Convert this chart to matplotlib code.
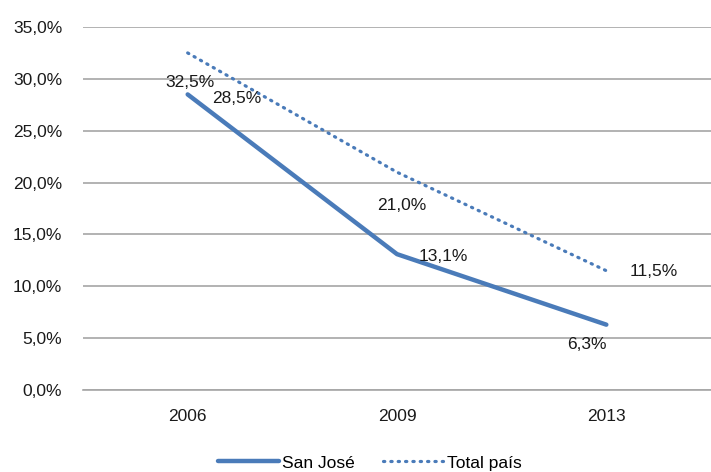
import matplotlib
matplotlib.use("Agg")
import matplotlib.pyplot as plt
from matplotlib.ticker import FuncFormatter

years = ["2006", "2009", "2013"]
san_jose = [28.5, 13.1, 6.3]
total_pais = [32.5, 21.0, 11.5]

# label offsets in pixels (dx, dy) for each data label
sj_offsets = [(49, -4), (46, -2), (-19, -20)]
tp_offsets = [(2, -30), (5, -33), (47, -1)]

blue = "#4a7bb9"

plt.rcParams['font.family'] = ['Liberation Sans', 'DejaVu Sans']

fig = plt.figure(figsize=(7.11, 4.72), dpi=100)
ax = fig.add_axes([83 / 711, 1 - 390 / 472, 1 - 83 / 711, (390 - 27) / 472])

x = list(range(len(years)))
ax.plot(x, san_jose, color=blue, lw=3.2, solid_capstyle='round', label="San José")
ax.plot(x, total_pais, color=blue, lw=2.3, linestyle=(0, (0.4, 1.9)),
        dash_capstyle='round', label="Total país")

def fmt(v):
    return f"{v:.1f}".replace(".", ",") + "%"

for xi, v, (dx, dy) in zip(x, san_jose, sj_offsets):
    ax.annotate(fmt(v), (xi, v), xytext=(dx * 0.72, dy * 0.72), textcoords='offset points',
                ha='center', va='center', fontsize=12.5, color="#1a1a1a")
for xi, v, (dx, dy) in zip(x, total_pais, tp_offsets):
    ax.annotate(fmt(v), (xi, v), xytext=(dx * 0.72, dy * 0.72), textcoords='offset points',
                ha='center', va='center', fontsize=12.5, color="#1a1a1a")

ax.set_xlim(-0.5, 2.5)
ax.set_ylim(0, 35)
ax.set_yticks(range(0, 36, 5))
ax.yaxis.set_major_formatter(FuncFormatter(lambda v, p: fmt(v)))
ax.set_xticks(x)
ax.set_xticklabels(years)
ax.tick_params(axis='both', length=0, labelsize=12.5, colors="#1a1a1a")
ax.tick_params(axis='x', pad=14)
ax.tick_params(axis='y', pad=15)
ax.grid(axis='y', color="#a6a6a6", lw=1.2)
ax.set_axisbelow(True)
for s in ax.spines.values():
    s.set_visible(False)
ax.spines['bottom'].set_visible(True)
ax.spines['bottom'].set_color("#a6a6a6")
ax.spines['bottom'].set_linewidth(1.2)

fig.legend(loc='lower center', bbox_to_anchor=(0.52, -0.03), ncol=2, frameon=False,
           fontsize=12.5, handlelength=3.5, handletextpad=0.2, columnspacing=1.6)

fig.savefig("out.png", dpi=100)
